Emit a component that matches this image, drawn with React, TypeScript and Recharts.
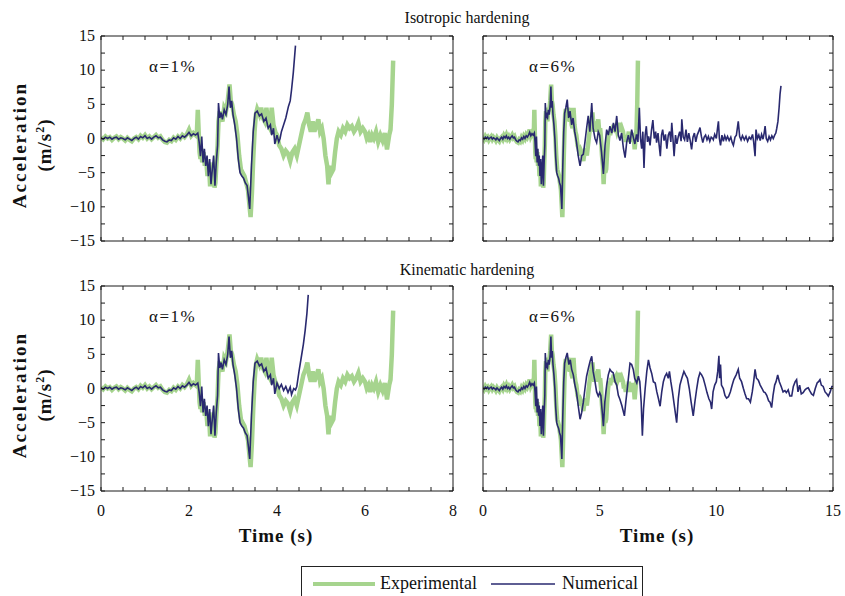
import React from 'react'
import { LineChart, Line, XAxis, YAxis } from 'recharts'

// measured experimental record (same test shown in every panel), [time s, accel m/s2]
const experimental: [number, number][] = [
  [0, 0.2], [0.05, -0.1], [0.1, 0.3], [0.15, 0.0], [0.2, 0.2], [0.25, -0.2], [0.3, 0.1], [0.35, 0.3],
  [0.4, -0.1], [0.45, 0.2], [0.5, 0.0], [0.55, -0.3], [0.6, 0.1], [0.65, -0.2], [0.7, -0.4], [0.75, 0.0],
  [0.8, 0.2], [0.85, -0.1], [0.9, 0.4], [0.95, 0.1], [1.0, 0.5], [1.05, 0.0], [1.1, 0.3], [1.15, -0.1],
  [1.2, 0.2], [1.25, 0.5], [1.3, 0.1], [1.35, 0.3], [1.4, -0.2], [1.45, -0.5], [1.5, -0.6], [1.55, -0.2],
  [1.6, -0.4], [1.65, 0.1], [1.7, -0.2], [1.75, 0.3], [1.8, 0.0], [1.85, 0.5], [1.9, 0.2], [1.95, 0.6],
  [2.0, 1.3], [2.05, 0.4], [2.1, 0.8], [2.15, 0.5], [2.18, 1.0],
  [2.2, 4.2], [2.22, 1.0], [2.24, -2.0], [2.26, -3.0], [2.28, -1.5], [2.3, -3.5], [2.33, -2.0], [2.36, -4.0],
  [2.39, -3.0], [2.42, -5.5], [2.45, -3.5], [2.48, -7.0], [2.5, -5.0], [2.53, -6.0], [2.56, -3.5], [2.58, -7.2],
  [2.6, -6.5], [2.62, -4.0], [2.65, -1.0], [2.67, 2.5], [2.7, 4.0], [2.73, 3.0], [2.76, 2.5], [2.8, 4.5],
  [2.84, 4.0], [2.88, 5.5], [2.92, 7.9], [2.95, 5.5], [2.98, 5.0], [3.02, 3.5], [3.06, 2.5], [3.1, 0.5],
  [3.14, -2.5], [3.18, -4.5], [3.22, -5.0], [3.26, -5.5], [3.3, -6.5], [3.34, -7.5], [3.37, -9.5], [3.4, -11.5],
  [3.43, -8.0], [3.46, -3.0], [3.49, 1.0], [3.52, 3.5], [3.55, 4.3], [3.6, 3.5], [3.64, 4.5], [3.68, 3.0],
  [3.72, 2.5], [3.76, 4.5], [3.8, 2.0], [3.84, 1.5], [3.88, 4.5], [3.92, 2.0], [3.96, 1.0], [4.0, 0.5],
  [4.05, -1.0], [4.1, -1.5], [4.15, -2.5], [4.2, -1.8], [4.25, -2.2], [4.3, -3.3], [4.35, -2.0], [4.4, -1.5],
  [4.45, -2.5], [4.5, -1.0], [4.55, 0.5], [4.6, 2.0], [4.65, 2.8], [4.69, 3.8], [4.73, 2.0], [4.77, 1.0],
  [4.81, 2.5], [4.85, 1.0], [4.9, 2.0], [4.94, 2.8], [4.98, 1.0], [5.02, 1.5], [5.06, 0.0], [5.1, -2.5],
  [5.14, -4.0], [5.17, -6.7], [5.2, -4.0], [5.24, -5.0], [5.28, -4.5], [5.32, -2.0], [5.36, 0.0], [5.4, 1.0],
  [5.45, 0.5], [5.5, 1.5], [5.55, 1.0], [5.6, 2.0], [5.65, 1.5], [5.7, 1.8], [5.75, 1.0], [5.8, 1.5],
  [5.85, 2.3], [5.9, 1.0], [5.95, 1.5], [6.0, 1.0], [6.04, 0.0], [6.08, 0.5], [6.12, -0.5], [6.16, 0.5],
  [6.2, 0.0], [6.25, 1.0], [6.3, -0.5], [6.35, 0.5], [6.4, -0.3], [6.45, 0.8], [6.5, -1.6], [6.55, 0.5],
  [6.58, 1.3], [6.61, 5.0], [6.64, 11.4],
]

// numerical response common to all four runs up to ~3.5 s
const numericalStart: [number, number][] = [
  [0, 0.1], [0.05, -0.1], [0.1, 0.2], [0.15, 0.0], [0.2, 0.2], [0.25, -0.1], [0.3, 0.1], [0.35, 0.2],
  [0.4, -0.1], [0.45, 0.1], [0.5, 0.0], [0.55, -0.2], [0.6, 0.1], [0.65, -0.1], [0.7, -0.3], [0.75, 0.0],
  [0.8, 0.2], [0.85, -0.1], [0.9, 0.3], [0.95, 0.1], [1.0, 0.4], [1.05, 0.0], [1.1, 0.2], [1.15, -0.1],
  [1.2, 0.2], [1.25, 0.4], [1.3, 0.1], [1.35, 0.2], [1.4, -0.2], [1.45, -0.4], [1.5, -0.5], [1.55, -0.2],
  [1.6, -0.3], [1.65, 0.1], [1.7, -0.1], [1.75, 0.3], [1.8, 0.0], [1.85, 0.4], [1.9, 0.2], [1.95, 0.5],
  [2.0, 0.9], [2.05, 0.4], [2.1, 0.7], [2.15, 0.5], [2.2, 0.8], [2.23, -0.5], [2.26, -2.6], [2.29, 0.3],
  [2.32, -3.5], [2.35, -1.5], [2.38, -4.0], [2.41, -2.5], [2.44, -5.5], [2.47, -3.0], [2.5, -6.7], [2.53, -4.5],
  [2.56, -2.5], [2.59, -6.9], [2.62, -3.5], [2.65, -1.0], [2.67, 5.2], [2.7, 3.0], [2.73, 3.8], [2.76, 2.8],
  [2.8, 4.2], [2.84, 3.5], [2.88, 5.0], [2.91, 7.6], [2.94, 4.5], [2.97, 5.5], [3.0, 3.5], [3.04, 2.0],
  [3.08, 0.0], [3.12, -3.0], [3.16, -5.0], [3.2, -5.5], [3.24, -5.8], [3.28, -6.5], [3.32, -6.9], [3.35, -8.5],
  [3.38, -10.3], [3.42, -4.0], [3.46, 1.0], [3.5, 3.7],
]

const isoTail1: [number, number][] = [
  [3.55, 4.0], [3.6, 3.3], [3.65, 3.6], [3.7, 2.5], [3.75, 3.0], [3.8, 1.5], [3.85, 2.0], [3.88, 0.5],
  [3.92, 1.5], [3.95, -0.8], [4.0, 0.5], [4.04, -0.5], [4.07, 0.0], [4.1, 1.0], [4.14, 1.8], [4.2, 3.0],
  [4.26, 4.7], [4.3, 5.5], [4.33, 7.1], [4.37, 9.6], [4.42, 13.6],
]

const kinTail1: [number, number][] = [
  [3.55, 4.0], [3.6, 3.3], [3.65, 3.6], [3.7, 2.5], [3.75, 3.0], [3.8, 1.5], [3.85, 2.0], [3.88, 0.5],
  [3.92, 1.5], [3.95, -0.8], [4.0, 0.8], [4.05, 0.0], [4.1, 0.6], [4.15, -0.3], [4.2, 0.3], [4.25, -0.6],
  [4.3, 0.2], [4.33, -0.9], [4.38, 0.0], [4.42, -0.2], [4.45, 0.3], [4.5, 2.5], [4.55, 4.5], [4.6, 6.5],
  [4.64, 8.5], [4.68, 11.0], [4.71, 13.7],
]

const isoTail6: [number, number][] = [
  [3.55, 4.5], [3.61, 5.7], [3.67, 3.0], [3.73, 4.0], [3.8, 2.0], [3.86, 3.0], [3.93, 1.0], [4.01, -0.6],
  [4.08, -2.5], [4.16, -4.0], [4.23, -2.5], [4.3, -2.3], [4.37, -0.5], [4.44, 1.5], [4.51, 3.3], [4.58, 1.0],
  [4.66, 5.2], [4.72, 1.5], [4.8, 0.0], [4.87, -0.6], [4.94, 1.0], [5.0, 0.5], [5.08, -2.0], [5.16, -5.2],
  [5.23, -1.0], [5.3, 1.3], [5.37, 0.5], [5.44, 1.8], [5.52, 0.8], [5.59, 2.3], [5.66, 1.0], [5.73, 3.3],
  [5.8, 0.5], [5.87, -0.3], [5.94, 0.8], [6.02, -1.5], [6.09, -2.8], [6.16, -0.5], [6.23, 0.5], [6.3, -0.8],
  [6.37, 1.3], [6.44, 0.2], [6.51, -0.8], [6.58, 0.6], [6.64, -0.5], [6.7, 4.5], [6.75, 0.0], [6.8, -1.5],
  [6.85, 1.0], [6.9, -4.3], [6.95, 0.5], [7.0, 1.8], [7.05, -0.5], [7.1, 0.3], [7.16, -1.0], [7.22, 1.2],
  [7.28, 2.7], [7.34, 0.0], [7.4, 1.0], [7.44, -0.6], [7.5, 0.8], [7.55, -1.0], [7.6, -2.6], [7.65, 0.5],
  [7.7, 1.3], [7.76, -0.3], [7.82, 0.6], [7.88, -1.5], [7.94, 0.5], [8.0, 1.0], [8.05, -0.5], [8.09, 2.3],
  [8.14, 0.0], [8.19, -2.6], [8.25, 0.5], [8.31, -0.8], [8.37, 0.3], [8.43, 1.0], [8.49, -0.4], [8.52, 2.8],
  [8.58, 0.2], [8.64, -0.2], [8.7, 1.3], [8.76, -0.5], [8.82, 0.8], [8.88, -0.3], [8.94, -1.6], [9.0, 0.2],
  [9.06, 0.8], [9.12, -0.5], [9.18, 0.5], [9.24, 1.0], [9.3, 1.6], [9.36, 0.3], [9.42, -0.6], [9.48, 0.2],
  [9.54, 0.5], [9.6, -0.2], [9.66, 0.3], [9.72, -0.4], [9.78, 0.2], [9.84, 0.0], [9.87, -0.2], [9.93, 0.6],
  [10.0, 0.0], [10.05, 1.5], [10.09, 2.5], [10.13, 0.0], [10.18, -1.0], [10.24, 0.5], [10.3, -0.4], [10.36, 0.4],
  [10.42, -0.2], [10.48, 0.3], [10.55, -0.3], [10.62, 0.2], [10.68, -0.6], [10.73, -1.0], [10.8, 0.2], [10.86, 0.5],
  [10.94, 2.5], [11.0, 0.3], [11.06, -0.2], [11.12, 0.4], [11.2, -0.2], [11.27, 0.3], [11.34, -0.4], [11.41, 0.2],
  [11.48, -0.1], [11.55, 0.6], [11.6, -0.5], [11.66, -2.6], [11.7, 1.3], [11.76, 0.0], [11.82, 0.5], [11.88, -0.3],
  [11.94, 0.6], [12.0, -0.1], [12.05, 0.8], [12.09, 1.8], [12.14, 0.0], [12.2, -0.4], [12.26, 0.3], [12.32, -0.2],
  [12.38, 0.4], [12.44, 0.0], [12.5, 0.5], [12.55, 0.8], [12.59, 1.5], [12.64, 2.5], [12.69, 4.5], [12.73, 6.5],
  [12.77, 7.7],
]

const kinTail6: [number, number][] = [
  [3.55, 4.5], [3.61, 5.2], [3.68, 3.5], [3.74, 4.2], [3.8, 2.8], [3.87, 2.0], [3.94, 0.5], [4.01, -0.6],
  [4.08, -2.5], [4.16, -4.5], [4.23, -3.5], [4.3, -2.0], [4.37, 0.0], [4.44, 1.8], [4.52, 3.0], [4.59, 4.0],
  [4.66, 4.7], [4.72, 2.5], [4.8, 1.0], [4.87, -0.5], [4.94, -1.1], [5.0, -0.6], [5.05, -1.0], [5.1, -3.0],
  [5.16, -5.5], [5.22, -2.0], [5.3, 0.5], [5.37, 2.0], [5.44, 2.8], [5.5, 2.5], [5.58, 2.3], [5.66, 1.0],
  [5.73, 0.5], [5.8, -1.0], [5.87, -1.6], [5.95, -2.5], [6.06, -4.0], [6.12, -2.0], [6.2, 0.5], [6.3, 3.7],
  [6.37, 3.5], [6.44, 2.8], [6.5, 1.5], [6.59, 0.8], [6.66, 1.8], [6.72, 1.0], [6.78, -2.0], [6.83, -6.9],
  [6.88, -3.0], [6.95, 0.0], [7.02, 2.5], [7.09, 4.2], [7.16, 3.0], [7.23, 2.2], [7.3, 1.0], [7.38, 0.8],
  [7.45, -0.5], [7.52, -1.5], [7.59, -2.6], [7.66, -0.5], [7.73, 1.0], [7.8, 1.8], [7.87, 2.2], [7.94, 1.5],
  [7.99, 2.5], [8.05, 1.0], [8.12, -0.5], [8.2, -2.5], [8.3, -5.0], [8.37, -1.5], [8.44, 0.5], [8.52, 1.5],
  [8.61, 2.5], [8.68, 2.0], [8.76, 1.5], [8.84, 0.0], [8.92, -2.0], [9.01, -4.0], [9.08, -2.0], [9.16, 0.0],
  [9.23, 1.5], [9.3, 2.3], [9.37, 2.0], [9.44, 1.5], [9.52, 0.5], [9.6, -0.6], [9.68, -1.5], [9.75, -2.0],
  [9.8, -3.0], [9.86, -0.5], [9.93, 0.5], [10.0, 1.0], [10.06, 2.5], [10.11, 4.8], [10.14, 1.5], [10.18, 3.5],
  [10.22, 0.5], [10.3, 0.0], [10.37, -1.0], [10.44, -1.4], [10.52, -1.2], [10.6, -0.5], [10.68, 0.5], [10.75, 1.3],
  [10.85, 2.0], [10.94, 2.8], [11.0, 1.5], [11.08, 1.0], [11.16, 0.0], [11.23, -0.8], [11.3, -1.5], [11.38, -1.5],
  [11.46, -2.0], [11.54, -0.5], [11.6, 1.0], [11.66, 2.8], [11.72, 1.5], [11.8, 1.2], [11.88, 0.5], [11.96, 0.0],
  [12.03, -0.5], [12.09, -0.6], [12.16, -1.0], [12.24, -1.8], [12.3, -2.0], [12.37, -2.8], [12.43, -1.0], [12.5, 0.5],
  [12.56, 1.0], [12.63, 2.0], [12.7, 1.0], [12.78, 0.3], [12.86, -0.5], [12.94, -0.3], [13.0, -0.6], [13.08, -0.2],
  [13.15, -1.1], [13.23, -1.1], [13.3, 0.3], [13.38, 1.0], [13.44, 1.3], [13.5, -0.5], [13.57, 0.5], [13.64, -0.8],
  [13.72, -0.6], [13.8, -0.2], [13.87, 0.0], [13.94, 0.1], [14.0, -0.3], [14.08, -0.8], [14.16, -1.0], [14.24, 0.0],
  [14.32, 0.8], [14.38, 1.0], [14.44, 1.3], [14.5, 0.5], [14.58, 0.3], [14.66, -0.5], [14.74, -0.8], [14.8, -1.1],
  [14.88, -0.5], [14.95, 0.3], [15.0, 0.3],
]

const yTicks = [-15, -12.5, -10, -7.5, -5, -2.5, 0, 2.5, 5, 7.5, 10, 12.5, 15]
const yLabels = [-15, -10, -5, 0, 5, 10, 15]
const xTicksShort = [0, 0.5, 1, 1.5, 2, 2.5, 3, 3.5, 4, 4.5, 5, 5.5, 6, 6.5, 7, 7.5, 8]
const xLabelsShort = [0, 2, 4, 6, 8]
const xTicksLong = [0, 1, 2, 3, 4, 5, 6, 7, 8, 9, 10, 11, 12, 13, 14, 15]
const xLabelsLong = [0, 5, 10, 15]

const toPoints = (pairs: [number, number][]) => pairs.map(([t, a]) => ({ t, a }))

const colors = {
  exp: '#a6d48e',
  num: '#29296f',
  axis: '#1a1a1a',
  text: '#111',
}

const serif = "'Times New Roman', 'Liberation Serif', Times, serif"
const TICK = 4
const fmt = (v: number) => (v < 0 ? '\u2212' + Math.abs(v) : String(v))

function makeTick(side: 'left' | 'right' | 'top' | 'bottom', labels: number[] | null) {
  return (p: any) => {
    const { x, y, payload } = p
    const v = payload.value
    const show = labels && labels.includes(v)
    if (side === 'left') {
      return (
        <g>
          <line x1={x} y1={y} x2={x + TICK} y2={y} stroke={colors.axis} />
          {show && (
            <text x={x - 6} y={y + 5} textAnchor="end" style={{ fontFamily: serif }} fontSize={16} fill={colors.text}>{fmt(v)}</text>
          )}
        </g>
      )
    }
    if (side === 'right') return <line x1={x} y1={y} x2={x - TICK} y2={y} stroke={colors.axis} />
    if (side === 'top') return <line x1={x} y1={y} x2={x} y2={y + TICK} stroke={colors.axis} />
    return (
      <g>
        <line x1={x} y1={y} x2={x} y2={y - TICK} stroke={colors.axis} />
        {show && (
          <text x={x} y={y + 25} textAnchor="middle" style={{ fontFamily: serif }} fontSize={16} fill={colors.text}>{fmt(v)}</text>
        )}
      </g>
    )
  }
}

type PanelProps = {
  left: number
  top: number
  plotW: number
  xMax: number
  xTicks: number[]
  xLabels: number[] | null
  yLabelsOn: boolean
  numerical: [number, number][]
}

function Panel({ left, top, plotW, xMax, xTicks, xLabels, yLabelsOn, numerical }: PanelProps) {
  const plotH = 205
  const axisW = 40
  const padTop = 12
  const padRight = 14
  return (
    <div style={{ position: 'absolute', left: left - axisW, top: top - padTop }}>
      <LineChart width={axisW + plotW + padRight} height={padTop + plotH + 30} margin={{ top: 0, right: 0, bottom: 0, left: 0 }}>
        <XAxis xAxisId="b" dataKey="t" type="number" domain={[0, xMax]} ticks={xTicks} interval={0}
          allowDataOverflow height={30} tickSize={0} tickMargin={0} tickLine={false}
          axisLine={{ stroke: colors.axis }} tick={makeTick('bottom', xLabels)} />
        <XAxis xAxisId="t" orientation="top" dataKey="t" type="number" domain={[0, xMax]} ticks={xTicks} interval={0}
          allowDataOverflow height={padTop} tickSize={0} tickMargin={0} tickLine={false}
          axisLine={{ stroke: colors.axis }} tick={makeTick('top', null)} />
        <YAxis yAxisId="l" type="number" domain={[-15, 15]} ticks={yTicks} interval={0} allowDataOverflow
          width={axisW} tickSize={0} tickMargin={0} tickLine={false}
          axisLine={{ stroke: colors.axis }} tick={makeTick('left', yLabelsOn ? yLabels : null)} />
        <YAxis yAxisId="r" orientation="right" type="number" domain={[-15, 15]} ticks={yTicks} interval={0} allowDataOverflow
          width={padRight} tickSize={0} tickMargin={0} tickLine={false}
          axisLine={{ stroke: colors.axis }} tick={makeTick('right', null)} />
        <Line xAxisId="b" yAxisId="l" data={toPoints(experimental)} dataKey="a" type="linear"
          stroke={colors.exp} strokeWidth={4.5} dot={false} activeDot={false} isAnimationActive={false} />
        <Line xAxisId="b" yAxisId="l" data={toPoints(numerical)} dataKey="a" type="linear"
          stroke={colors.num} strokeWidth={1.6} dot={false} activeDot={false} isAnimationActive={false} />
      </LineChart>
    </div>
  )
}

const textBase: React.CSSProperties = { position: 'absolute', fontFamily: serif, color: colors.text, whiteSpace: 'nowrap' }

function Centered({ cx, cy, size, bold, spacing, children, rotate }: any) {
  return (
    <div style={{
      ...textBase, left: cx - 150, top: cy - 12, width: 300, height: 24, lineHeight: '24px', textAlign: 'center',
      fontSize: size, fontWeight: bold ? 'bold' : 'normal', letterSpacing: spacing || 0,
      transform: rotate ? 'rotate(-90deg)' : undefined,
    }}>{children}</div>
  )
}

export default function App() {
  const L1 = 101
  const L2 = 483
  const T1 = 36
  const T2 = 286
  return (
    <div style={{ position: 'absolute', left: 0, top: 0, width: 845, height: 596, background: '#fff', overflow: 'hidden', fontFamily: serif }}>
      <Centered cx={467} cy={18} size={16}>Isotropic hardening</Centered>
      <Centered cx={467} cy={270} size={16}>Kinematic hardening</Centered>

      <Panel left={L1} top={T1} plotW={352} xMax={8} xTicks={xTicksShort} xLabels={null} yLabelsOn
        numerical={[...numericalStart, ...isoTail1]} />
      <Panel left={L2} top={T1} plotW={350} xMax={15} xTicks={xTicksLong} xLabels={null} yLabelsOn={false}
        numerical={[...numericalStart, ...isoTail6]} />
      <Panel left={L1} top={T2} plotW={352} xMax={8} xTicks={xTicksShort} xLabels={xLabelsShort} yLabelsOn
        numerical={[...numericalStart, ...kinTail1]} />
      <Panel left={L2} top={T2} plotW={350} xMax={15} xTicks={xTicksLong} xLabels={xLabelsLong} yLabelsOn={false}
        numerical={[...numericalStart, ...kinTail6]} />

      <div style={{ ...textBase, left: 149, top: 57, fontSize: 17, letterSpacing: 1.5 }}>α=1%</div>
      <div style={{ ...textBase, left: 529, top: 57, fontSize: 17, letterSpacing: 1.5 }}>α=6%</div>
      <div style={{ ...textBase, left: 149, top: 307, fontSize: 17, letterSpacing: 1.5 }}>α=1%</div>
      <div style={{ ...textBase, left: 529, top: 307, fontSize: 17, letterSpacing: 1.5 }}>α=6%</div>

      <Centered cx={20} cy={145} size={19} bold spacing={2} rotate>Acceleration</Centered>
      <Centered cx={40} cy={145} size={19} bold spacing={1} rotate>(m/s<sup style={{ fontSize: 12 }}>2</sup>)</Centered>
      <Centered cx={20} cy={395} size={19} bold spacing={2} rotate>Acceleration</Centered>
      <Centered cx={40} cy={395} size={19} bold spacing={1} rotate>(m/s<sup style={{ fontSize: 12 }}>2</sup>)</Centered>

      <Centered cx={276} cy={536} size={19} bold spacing={1}>Time (s)</Centered>
      <Centered cx={657} cy={536} size={19} bold spacing={1}>Time (s)</Centered>

      <div style={{ position: 'absolute', left: 301, top: 566, width: 342, height: 40, border: '1px solid #222', boxSizing: 'border-box' }}>
        <svg width={340} height={36} style={{ position: 'absolute', left: 0, top: 0 }}>
          <line x1={11} y1={17} x2={73} y2={17} stroke={colors.exp} strokeWidth={4} />
          <line x1={189} y1={17} x2={253} y2={17} stroke={colors.num} strokeWidth={1.4} />
          <text x={78} y={22} style={{ fontFamily: serif }} fontSize={18} fill={colors.text}>Experimental</text>
          <text x={260} y={22} style={{ fontFamily: serif }} fontSize={18} fill={colors.text}>Numerical</text>
        </svg>
      </div>
    </div>
  )
}
